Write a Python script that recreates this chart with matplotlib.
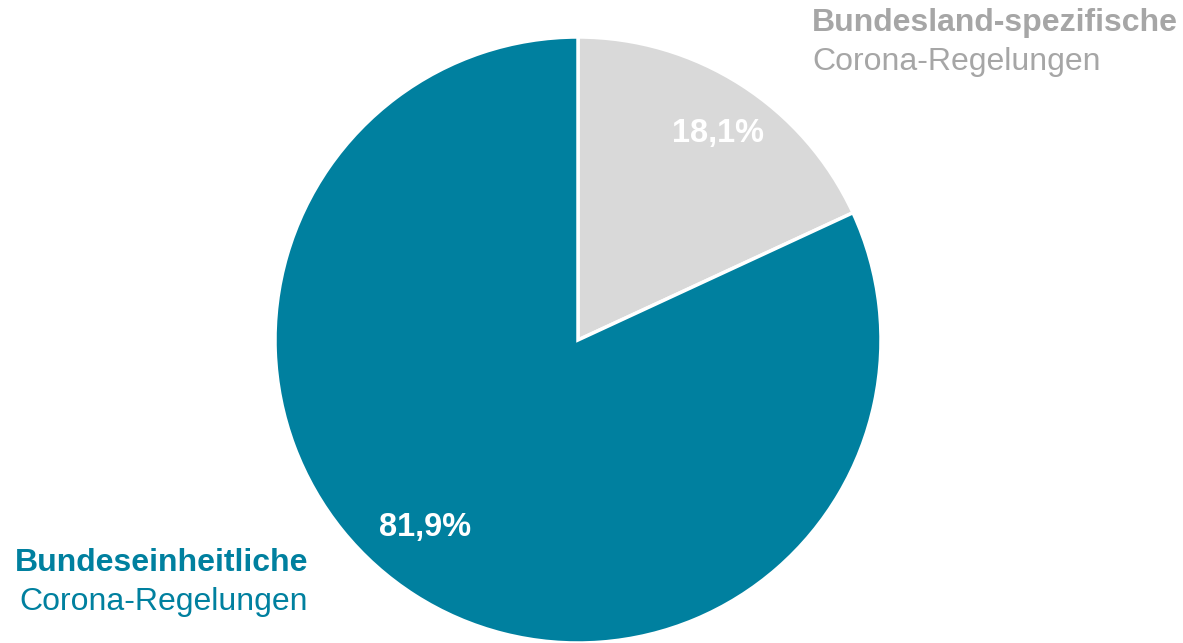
import matplotlib
matplotlib.use("Agg")
import matplotlib.pyplot as plt

plt.rcParams["font.family"] = ["Liberation Sans", "DejaVu Sans"]

# Daten
categories = ["Bundesland-spezifische", "Bundeseinheitliche"]
subtitle = "Corona-Regelungen"
shares = [18.1, 81.9]
pct_labels = ["18,1%", "81,9%"]

TEAL = "#00809F"
LIGHT = "#D9D9D9"
GREY_TXT = "#A6A6A6"

W, H = 1183, 643
fig = plt.figure(figsize=(W / 100, H / 100), dpi=100)
ax = fig.add_axes([0, 0, 1, 1])

cx, cy, r = 578, H - 340, 303
ax.pie(
    shares,
    colors=[LIGHT, TEAL],
    startangle=90,
    counterclock=False,
    center=(cx, cy),
    radius=r,
    wedgeprops=dict(edgecolor="white", linewidth=2.5),
    frame=True,
)
ax.set_xlim(0, W)
ax.set_ylim(0, H)
ax.set_aspect("equal")
ax.axis("off")

# Prozentwerte im Segment
ax.text(718, H - 142, pct_labels[0], color="white", fontsize=23.5,
        fontweight="bold", ha="center", va="baseline")
ax.text(425, H - 536, pct_labels[1], color="white", fontsize=23.5,
        fontweight="bold", ha="center", va="baseline")

# Beschriftungen außen
ax.text(812, H - 31, categories[0], color=GREY_TXT, fontsize=23,
        fontweight="bold", ha="left", va="baseline")
ax.text(812, H - 70, subtitle, color=GREY_TXT, fontsize=23,
        ha="left", va="baseline")

ax.text(308, H - 571, categories[1], color=TEAL, fontsize=23,
        fontweight="bold", ha="right", va="baseline")
ax.text(308, H - 610, subtitle, color=TEAL, fontsize=23,
        ha="right", va="baseline")

fig.savefig("out.png", dpi=100)
plt.close(fig)
